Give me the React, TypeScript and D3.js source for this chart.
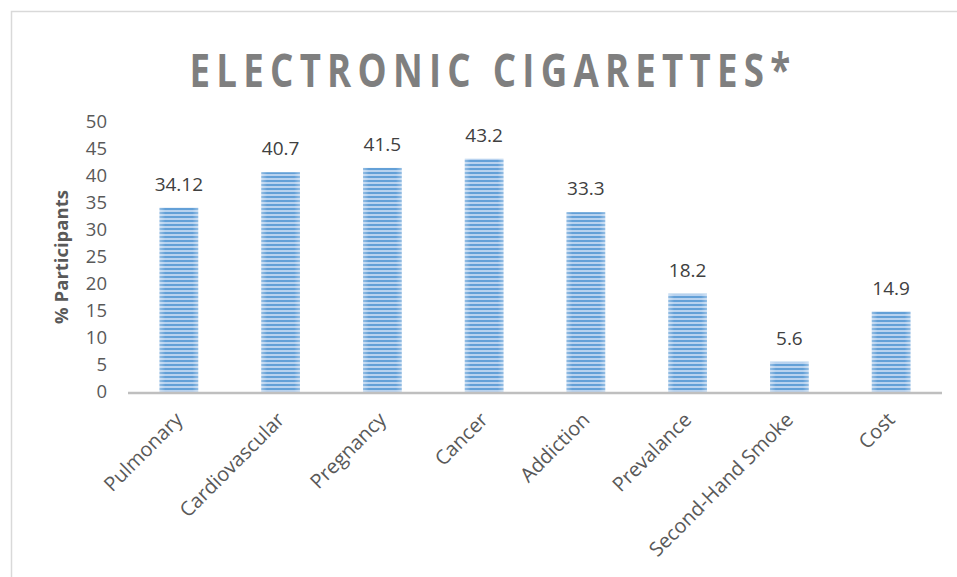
import React from "react";
import * as d3 from "d3";

const categories = ["Pulmonary", "Cardiovascular", "Pregnancy", "Cancer", "Addiction", "Prevalance", "Second-Hand Smoke", "Cost"];
const values = [34.12, 40.7, 41.5, 43.2, 33.3, 18.2, 5.6, 14.9];
const valueLabels = ["34.12", "40.7", "41.5", "43.2", "33.3", "18.2", "5.6", "14.9"];
const yTicks = [0, 5, 10, 15, 20, 25, 30, 35, 40, 45, 50];
const title = "ELECTRONIC CIGARETTES*";
const yTitle = "% Participants";

const W = 957;
const H = 577;
const FONT = "'Open Sans', Lato, sans-serif";

export default function App() {
  const x = d3.scaleBand<string>().domain(categories).range([128, 942]).paddingInner(0.62).paddingOuter(0.31);
  const y = d3.scaleLinear().domain([0, 50]).range([392, 122]);
  const bw = x.bandwidth();

  return (
    <svg width={W} height={H} style={{ position: "absolute", left: 0, top: 0, background: "#fff" }} fontFamily={FONT}>
      <defs>
        <pattern id="stripes" patternUnits="userSpaceOnUse" width="8" height="4">
          <rect x="0" y="0" width="8" height="4" fill="#b4d0ee" />
          <rect x="0" y="0" width="8" height="2" fill="#5b9bd5" />
        </pattern>
        <linearGradient id="glow" x1="0" x2="1" y1="0" y2="0">
          <stop offset="0" stopColor="#ffffff" stopOpacity="0.35" />
          <stop offset="0.15" stopColor="#ffffff" stopOpacity="0.05" />
          <stop offset="0.85" stopColor="#ffffff" stopOpacity="0.05" />
          <stop offset="1" stopColor="#ffffff" stopOpacity="0.35" />
        </linearGradient>
      </defs>
      <rect x={11.5} y={11.5} width={W + 20} height={H + 20} fill="#fff" stroke="#d9d9d9" strokeWidth={1.5} />
      <text transform="translate(493, 87) scale(0.78, 1)" textAnchor="middle" fontSize={47} fontWeight="bold" fill="#7f7f7f" letterSpacing={8}>{title}</text>

      {yTicks.map((t) => (
        <text key={t} x={107} y={y(t)} dy="0.35em" textAnchor="end" fontSize={18.5} fill="#595959">{t}</text>
      ))}
      <text transform={`translate(68, ${y(25)}) rotate(-90)`} textAnchor="middle" fontSize={18.5} fontWeight="bold" fill="#595959">{yTitle}</text>

      {categories.map((c, i) => (
        <g key={c}>
          <rect x={x(c)} y={y(values[i])} width={bw} height={y(0) - y(values[i])} fill="url(#stripes)" />
          <rect x={x(c)} y={y(values[i])} width={bw} height={y(0) - y(values[i])} fill="url(#glow)" />
          <text x={(x(c) as number) + bw / 2} y={y(values[i]) - 17} textAnchor="middle" fontSize={19} fill="#404040">{valueLabels[i]}</text>
        </g>
      ))}

      <line x1={128} x2={942} y1={393} y2={393} stroke="#bfbfbf" strokeWidth={2.5} />

      {categories.map((c) => {
        const cx = (x(c) as number) + bw / 2 + 5;
        const cy = 421;
        return (
          <text key={c} transform={`translate(${cx}, ${cy}) rotate(-45)`} textAnchor="end" fontSize={20} fill="#595959">{c}</text>
        );
      })}
    </svg>
  );
}
